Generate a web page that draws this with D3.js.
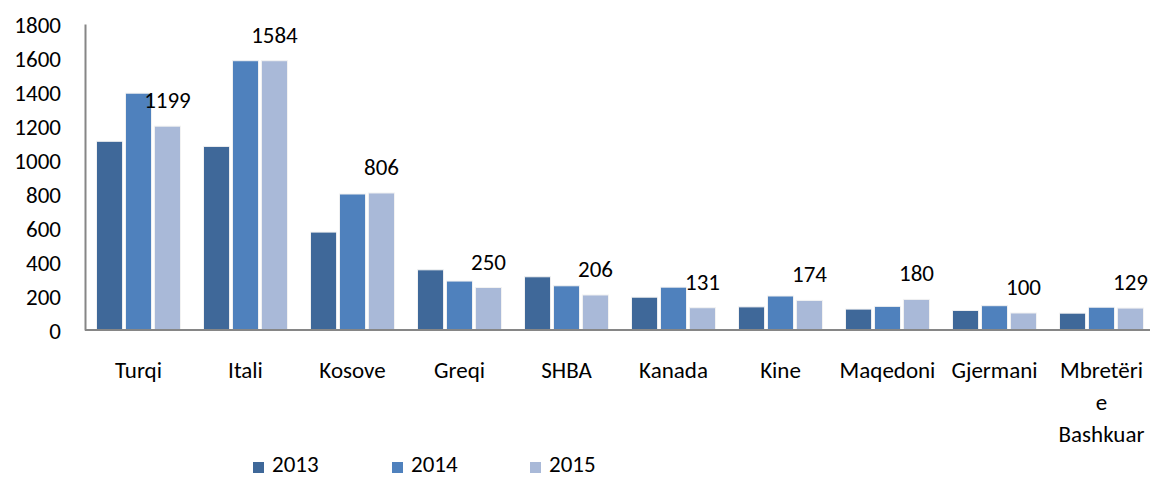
<!DOCTYPE html>
<html>
<head>
<meta charset="utf-8">
<script src="https://cdn.jsdelivr.net/npm/d3@7"></script>
<style>
  body { margin: 0; background: #fff; }
  #chart { width: 1156px; height: 479px; }
  text { font-family: Carlito, "Open Sans", sans-serif; fill: #000; }
</style>
</head>
<body>
<div id="chart"></div>
<script>
const categories = ["Turqi", "Itali", "Kosove", "Greqi", "SHBA", "Kanada", "Kine", "Maqedoni", "Gjermani", "Mbretëri e Bashkuar"];
const years = ["2013", "2014", "2015"];
const values2013 = [1110, 1080, 576, 354, 313, 193, 136, 123, 115, 99];
const values2014 = [1393, 1584, 800, 288, 260, 252, 200, 139, 143, 134];
const values2015 = [1199, 1584, 806, 250, 206, 131, 174, 180, 100, 129];
const yTicks = [0, 200, 400, 600, 800, 1000, 1200, 1400, 1600, 1800];
const colors = ["#3f6899", "#4f81bd", "#a9b9d8"];

function drawChart(divId) {
  const width = 1156, height = 479;
  const left = 85, right = 1155, top = 24, bottom = 330;
  const fontSize = 23;
  const font = 'Carlito, "Open Sans", sans-serif';

  const svg = d3.select(`#${divId}`)
    .append("svg")
    .attr("width", width)
    .attr("height", height);

  const series = [values2013, values2014, values2015];
  const rows = categories.map((c, i) => ({
    cat: c,
    vals: years.map((y, k) => ({ year: y, value: series[k][i] }))
  }));

  const x0 = d3.scaleBand()
    .domain(categories)
    .range([left, right])
    .paddingInner(0.215)
    .paddingOuter(0.1075);

  const x1 = d3.scaleBand()
    .domain(years)
    .range([0, x0.bandwidth()])
    .paddingInner(0.1);

  const y = d3.scaleLinear()
    .domain([0, 1800])
    .range([bottom, top]);

  const color = d3.scaleOrdinal(colors).domain(years);

  // bars
  const groups = svg.selectAll(".group")
    .data(rows)
    .enter()
    .append("g")
    .attr("class", "group")
    .attr("transform", (d) => `translate(${x0(d.cat)},0)`);

  groups.selectAll("rect")
    .data((d) => d.vals)
    .enter()
    .append("rect")
    .attr("x", (d) => x1(d.year))
    .attr("y", (d) => y(d.value))
    .attr("width", x1.bandwidth())
    .attr("height", (d) => bottom - y(d.value))
    .attr("fill", (d) => color(d.year))
    .attr("stroke", "#f2f2f2")
    .attr("stroke-width", 1);

  // data labels, 2015 only
  groups.append("text")
    .attr("x", x1("2015") + x1.bandwidth() / 2)
    .attr("y", (d) => y(d.vals[2].value) - 18)
    .attr("text-anchor", "middle")
    .style("font-size", `${fontSize}px`)
    .text((d) => d.vals[2].value);

  // y axis
  const yAxis = svg.append("g")
    .attr("transform", `translate(${left},0)`)
    .call(d3.axisLeft(y).tickValues(yTicks).tickFormat(d3.format("d")).tickSize(0).tickPadding(24));
  yAxis.select(".domain").attr("stroke", "#868686").attr("stroke-width", 2);
  yAxis.selectAll("text")
    .style("font-size", `${fontSize}px`)
    .style("font-family", font)
    .attr("dy", "0.35em");

  // x axis
  const xAxis = svg.append("g")
    .attr("transform", `translate(0,${bottom})`)
    .call(d3.axisBottom(x0).tickSize(0).tickSizeOuter(0));
  xAxis.select(".domain").attr("stroke", "#868686").attr("stroke-width", 2)
    .attr("d", `M${left},0H1150`);
  xAxis.selectAll("text")
    .style("font-size", `${fontSize}px`)
    .style("font-family", font)
    .attr("y", 48)
    .attr("dy", null)
    .each(function () {
      const t = d3.select(this);
      const words = t.text().split(" ");
      t.text(null);
      let line = [];
      let lineNo = 0;
      let tspan = t.append("tspan").attr("x", 0).attr("y", 48);
      words.forEach((w) => {
        line.push(w);
        tspan.text(line.join(" "));
        if (tspan.node().getComputedTextLength() > 98 && line.length > 1) {
          line.pop();
          tspan.text(line.join(" "));
          line = [w];
          lineNo++;
          tspan = t.append("tspan").attr("x", 0).attr("y", 48 + lineNo * 32).text(w);
        }
      });
    });

  // legend
  const legendX = [253, 392, 530];
  const legend = svg.selectAll(".legend")
    .data(years)
    .enter()
    .append("g")
    .attr("class", "legend")
    .attr("transform", (d, i) => `translate(${legendX[i]},462)`);
  legend.append("rect")
    .attr("width", 11)
    .attr("height", 11)
    .attr("fill", (d) => color(d));
  legend.append("text")
    .attr("x", 19)
    .attr("y", 10)
    .style("font-size", `${fontSize}px`)
    .text((d) => d);
}

drawChart("chart");
</script>
</body>
</html>
